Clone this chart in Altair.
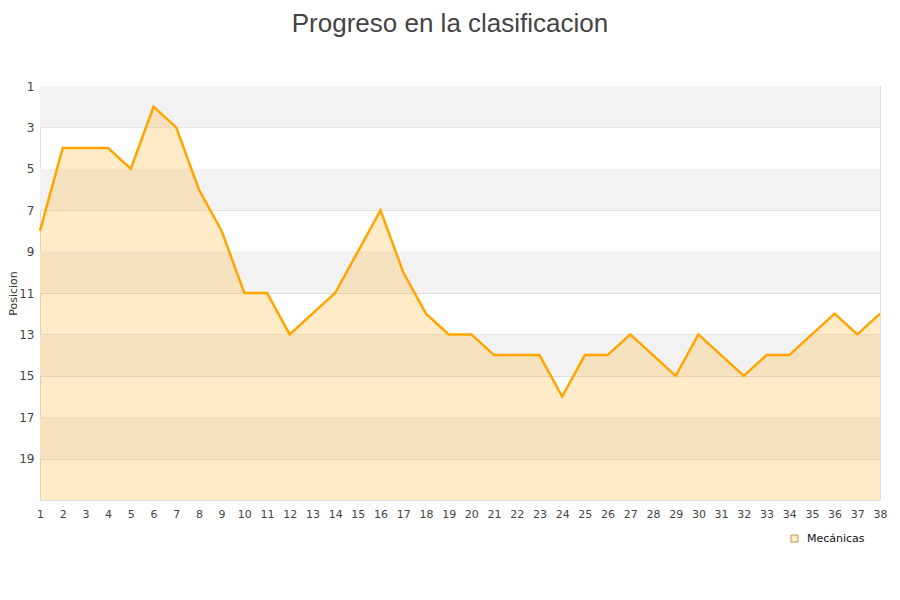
import altair as alt
import pandas as pd

jornadas = list(range(1, 39))
posiciones = [8, 4, 4, 4, 5, 2, 3, 6, 8, 11, 11, 13, 12, 11, 9, 7, 10, 12, 13, 13,
              14, 14, 14, 16, 14, 14, 13, 14, 15, 13, 14, 15, 14, 14, 13, 12, 13, 12]
serie = "Mecánicas"
y_ticks = [1, 3, 5, 7, 9, 11, 13, 15, 17, 19]
band_start = [1, 5, 9, 13, 17]
band_end = [3, 7, 11, 15, 19]

df = pd.DataFrame({"Jornada": jornadas, "Posicion": posiciones, "Equipo": [serie] * len(jornadas)})
bands = pd.DataFrame({"y1": band_start, "y2": band_end})
legend_df = pd.DataFrame({"Equipo": [serie]})

yscale = alt.Scale(domain=[1, 21], reverse=True, zero=False, nice=False)
xscale = alt.Scale(type="point", padding=0, domain=jornadas)

xaxis = alt.Axis(title=None, grid=False, ticks=False, domain=False, labelAngle=0,
                 labelFontSize=11, labelColor="#444444", labelPadding=8,
                 labelOverlap=False, labelFlush=False, labelBound=False)

band_layer = alt.Chart(bands).mark_rect(color="#F2F2F2").encode(
    y=alt.Y("y1:Q", scale=yscale,
            axis=alt.Axis(values=y_ticks, title="Posicion", grid=True, gridColor="#DDDDDD",
                          ticks=False, domain=False, labelPadding=6, labelFontSize=12,
                          labelColor="#444444", titleFontSize=11, titleColor="#333333",
                          titleFontWeight="normal", titleX=-22, titleBaseline="bottom")),
    y2="y2:Q",
    x=alt.value(0),
    x2=alt.value(840),
)

area = alt.Chart(df).mark_area(color="#FFA500", fillOpacity=0.22, line=False).encode(
    x=alt.X("Jornada:O", scale=xscale, axis=xaxis),
    y=alt.Y("Posicion:Q", scale=yscale),
    y2=alt.datum(21),
)

line = alt.Chart(df).mark_line(color="#FFA500", strokeWidth=2.5).encode(
    x=alt.X("Jornada:O", scale=xscale, axis=xaxis),
    y=alt.Y("Posicion:Q", scale=yscale),
)

legend_layer = alt.Chart(legend_df).mark_point(
    shape="square", filled=True, stroke="#B8955F", strokeWidth=1, opacity=0
).encode(
    y=alt.datum(10),
    fill=alt.Fill("Equipo:N", scale=alt.Scale(range=["#FFEBC6"]),
                  legend=alt.Legend(title=None, orient="none", legendX=749, legendY=447,
                                    symbolType="square", symbolSize=49, symbolOpacity=1,
                                    symbolStrokeColor="#B8955F", symbolStrokeWidth=1,
                                    labelFontSize=11, labelColor="#111111",
                                    labelFont="DejaVu Sans", labelOffset=7)),
)

chart = alt.layer(band_layer, area, line, legend_layer).properties(
    width=840,
    height=414,
    title=alt.Title("Progreso en la clasificacion", font="Liberation Sans", fontSize=26,
                    fontWeight="normal", color="#444444", anchor="middle", dx=-10, offset=43),
    autosize=alt.AutoSizeParams(type="none"),
    padding={"left": 32, "top": 78, "right": 12, "bottom": 80},
).configure_view(stroke="#DDDDDD", strokeWidth=1).configure_axis(
    labelFont="DejaVu Sans", titleFont="DejaVu Sans"
)

chart.save("out.html", embed_options={"renderer": "svg", "actions": False})
